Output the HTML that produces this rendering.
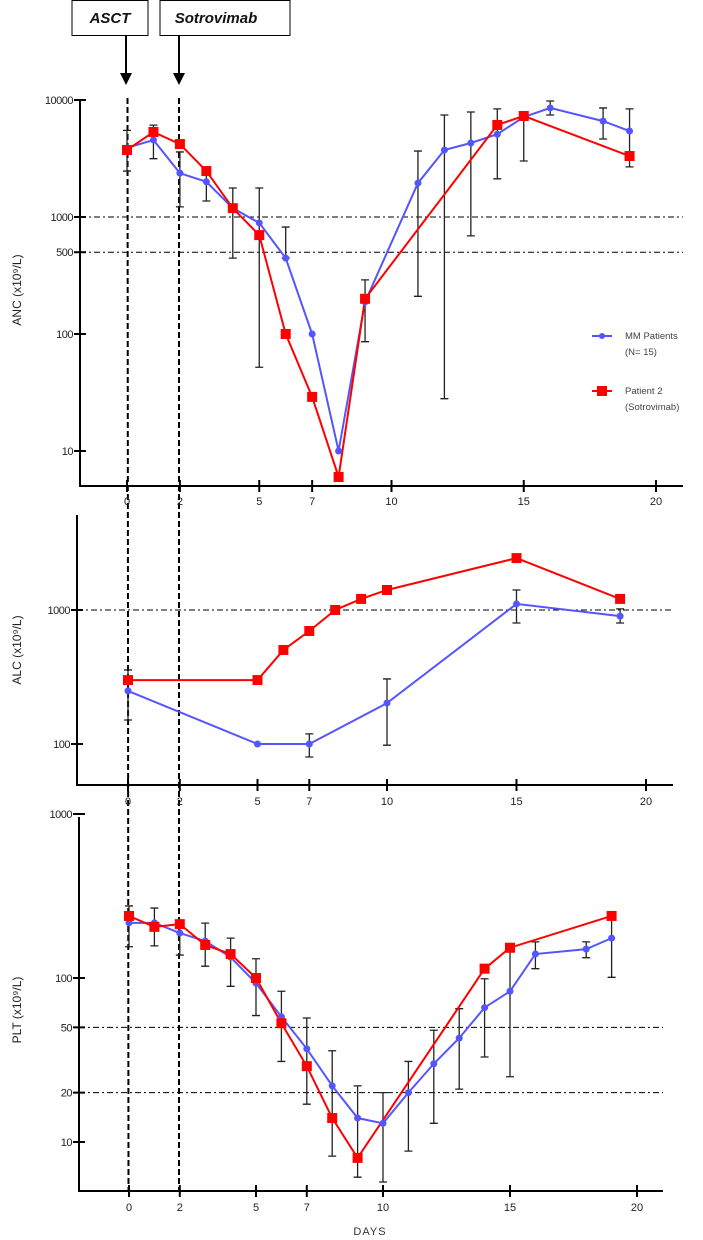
<!DOCTYPE html>
<html><head><meta charset="utf-8">
<style>
html,body{margin:0;padding:0;background:#fff;}
svg{display:block;font-family:"Liberation Sans",Arial,sans-serif;}
</style></head>
<body>
<svg id="chart" width="703" height="1240" viewBox="0 0 703 1240" xmlns="http://www.w3.org/2000/svg">
  <g>
    <rect x="72" y="0.5" width="76" height="35" fill="#fff" stroke="#000" stroke-width="1"/>
    <text x="110" y="23" text-anchor="middle" font-size="15" font-style="italic" font-weight="bold" fill="#111">ASCT</text>
    <rect x="160" y="0.5" width="130" height="35" fill="#fff" stroke="#000" stroke-width="1"/>
    <text x="216" y="23" text-anchor="middle" font-size="15" font-style="italic" font-weight="bold" fill="#111">Sotrovimab</text>
    <line x1="126" y1="36" x2="126" y2="74" stroke="#000" stroke-width="2"/>
    <polygon points="120,73 132,73 126,85" fill="#000"/>
    <line x1="179" y1="36" x2="179" y2="74" stroke="#000" stroke-width="2"/>
    <polygon points="173,73 185,73 179,85" fill="#000"/>
    <line x1="127.5" y1="98" x2="128.5" y2="1191" stroke="#000" stroke-width="2" stroke-dasharray="6,3"/>
    <line x1="179" y1="98" x2="179" y2="1191" stroke="#000" stroke-width="2" stroke-dasharray="6,3"/>
  </g>
  <g id="panels"></g>
  <g>
    <line x1="592" y1="336" x2="612" y2="336" stroke="#5555ff" stroke-width="2"/>
    <circle cx="602" cy="336" r="3" fill="#5555ff"/>
    <text x="625" y="339" font-size="9.5" fill="#444">MM Patients</text>
    <text x="625" y="355" font-size="9.5" fill="#444">(N= 15)</text>
    <line x1="592" y1="391" x2="612" y2="391" stroke="#ff0000" stroke-width="2"/>
    <rect x="597" y="386" width="10" height="10" fill="#ff0000"/>
    <text x="625" y="394" font-size="9.5" fill="#444">Patient 2</text>
    <text x="625" y="410" font-size="9.5" fill="#444">(Sotrovimab)</text>
  </g>
  <text x="370" y="1235" text-anchor="middle" font-size="11" letter-spacing="1" fill="#333">DAYS</text>
</svg>
<script>
// ---- data ----
const xTickLabels = [0, 2, 5, 7, 10, 15, 20];

const ancMmDays = [0,1,2,3,4,5,6,7,8,9,11,12,13,14,15,16,18,19];
const ancMmValues = [3900,4550,2370,2000,1190,890,445,100,10,188,1950,3740,4290,5100,7150,8550,6600,5430];
const ancMmErrHigh = [5500,6100,3600,2430,1770,1770,820,100,10,290,3660,7440,7900,8400,7300,9800,8550,8400];
const ancMmErrLow  = [2470,3150,1220,1370,445,52,445,100,10,86,210,28,690,2120,3010,7440,4640,2680];
const ancPtDays = [0,1,2,3,4,5,6,7,8,9,14,15,19];
const ancPtValues = [3740,5330,4200,2470,1190,700,100,29,6,200,6120,7300,3320];
const ancTicks = [10000,1000,500,100,10];
const ancRefLines = [1000,500];

const alcMmDays = [0,5,7,10,15,19];
const alcMmValues = [249,100,100,202,1110,900];
const alcMmErrHigh = [357,100,119,306,1410,1020];
const alcMmErrLow  = [151,100,80,98,800,800];
const alcPtDays = [0,5,6,7,8,9,10,15,19];
const alcPtValues = [300,300,503,697,1000,1210,1410,2440,1210];
const alcTicks = [1000,100];
const alcRefLines = [1000];

const pltMmDays = [0,1,2,3,4,5,6,7,8,9,10,11,12,13,14,15,16,18,19];
const pltMmValues = [217,217,188,168,134,93,58,37,22,14,13,20,30,43,66,83,140,150,175];
const pltMmErrHigh = [275,267,207,216,175,131,83,57,36,22,20,31,48,65,99,144,166,166,235];
const pltMmErrLow  = [155,157,138,118,89,59,31,17,8.2,6.1,5.7,8.8,13,21,33,25,114,133,101];
const pltPtDays = [0,1,2,3,4,5,6,7,8,9,14,15,19];
const pltPtValues = [239,205,213,159,140,100,53,29,14,8,114,153,239];
const pltTicks = [1000,100,50,20,10];
const pltRefLines = [50,20];

// ---- layout (not data) ----
const panelDefs = [
  {key:'anc', title:'ANC (x10\u2079/L)', titleY:290, axX:80, x0:127, dx:26.45, xEnd:683, yTop:100, yBottom:486, refV:10000, refY:100, perDec:117, tickY:505,
   mmD:ancMmDays, mmV:ancMmValues, mmH:ancMmErrHigh, mmL:ancMmErrLow, ptD:ancPtDays, ptV:ancPtValues, ticks:ancTicks, refs:ancRefLines},
  {key:'alc', title:'ALC (x10\u2079/L)', titleY:650, axX:77, x0:128, dx:25.9, xEnd:673, yTop:515, yBottom:785, refV:1000, refY:610, perDec:134, tickY:805,
   mmD:alcMmDays, mmV:alcMmValues, mmH:alcMmErrHigh, mmL:alcMmErrLow, ptD:alcPtDays, ptV:alcPtValues, ticks:alcTicks, refs:alcRefLines},
  {key:'plt', title:'PLT (x10\u2079/L)', titleY:1010, axX:79, x0:129, dx:25.4, xEnd:663, yTop:817, yBottom:1191, refV:100, refY:978, perDec:164, tickY:1211,
   mmD:pltMmDays, mmV:pltMmValues, mmH:pltMmErrHigh, mmL:pltMmErrLow, ptD:pltPtDays, ptV:pltPtValues, ticks:pltTicks, refs:pltRefLines}
];

const NS = 'http://www.w3.org/2000/svg';
const root = document.getElementById('panels');
function mk(tag, attrs, parent){
  const e = document.createElementNS(NS, tag);
  for (const k in attrs) e.setAttribute(k, attrs[k]);
  parent.appendChild(e);
  return e;
}

panelDefs.forEach(p => {
  const xScale = d => p.x0 + p.dx * d;
  const yScale = v => p.refY - (Math.log10(v) - Math.log10(p.refV)) * p.perDec;
  const g = mk('g', {}, root);
  
  

  // reference lines
  p.refs.forEach(r => {
    const l = mk('line', {x1:p.axX, x2:p.xEnd, y1:yScale(r), y2:yScale(r), stroke:'#000', 'stroke-width':1, 'stroke-dasharray':'6,3,2,3'}, g);
    
    
  });

  // axes
  const ya = mk('line', {x1:p.axX, x2:p.axX, y1:p.yTop, y2:p.yBottom, stroke:'#000', 'stroke-width':2}, g);
  
  
  const xa = mk('line', {x1:p.axX-1, x2:p.xEnd, y1:p.yBottom, y2:p.yBottom, stroke:'#000', 'stroke-width':2}, g);
  
  

  p.ticks.forEach(t => {
    const y = yScale(t);
    mk('line', {x1:p.axX-6, x2:p.axX+6, y1:y, y2:y, stroke:'#000', 'stroke-width':2}, g);
    const tx = mk('text', {x:p.axX-7, y:y+4, 'text-anchor':'end', 'font-size':11, 'letter-spacing':'-0.5', fill:'#222'}, g);
    tx.textContent = String(t);
    
    
  });
  xTickLabels.forEach(t => {
    const x = xScale(t);
    mk('line', {x1:x, x2:x, y1:p.yBottom-6, y2:p.yBottom+6, stroke:'#000', 'stroke-width':2}, g);
    const tx = mk('text', {x:x, y:p.tickY, 'text-anchor':'middle', 'font-size':11, fill:'#222'}, g);
    tx.textContent = String(t);
    
    
  });

  const title = mk('text', {x:0, y:0, transform:'translate(21,' + p.titleY + ') rotate(-90)', 'text-anchor':'middle', 'font-size':12, fill:'#222'}, g);
  title.textContent = p.title;
  
  

  // error bars
  p.mmD.forEach((d, i) => {
    const x = xScale(d), yh = yScale(p.mmH[i]), yl = yScale(p.mmL[i]);
    if (Math.abs(yl - yh) < 1) return;
    const eb = mk('path', {d:'M'+(x-4)+','+yh+'H'+(x+4)+'M'+x+','+yh+'V'+yl+'M'+(x-4)+','+yl+'H'+(x+4), stroke:'#222', 'stroke-width':1.3, fill:'none'}, g);
    
    
  });

  // MM line
  const mmPts = p.mmD.map((d, i) => xScale(d) + ',' + yScale(p.mmV[i])).join(' ');
  const mmLine = mk('polyline', {points:mmPts, fill:'none', stroke:'#5555ff', 'stroke-width':2}, g);
  
  
  // patient line
  const ptPts = p.ptD.map((d, i) => xScale(d) + ',' + yScale(p.ptV[i])).join(' ');
  const ptLine = mk('polyline', {points:ptPts, fill:'none', stroke:'#ff0000', 'stroke-width':2}, g);
  
  

  p.mmD.forEach((d, i) => {
    const c = mk('circle', {cx:xScale(d), cy:yScale(p.mmV[i]), r:3.5, fill:'#5555ff'}, g);
    
    
  });
  p.ptD.forEach((d, i) => {
    const r = mk('rect', {x:xScale(d)-5, y:yScale(p.ptV[i])-5, width:10, height:10, fill:'#ff0000'}, g);
    
    
  });
});
</script>
</body></html>
